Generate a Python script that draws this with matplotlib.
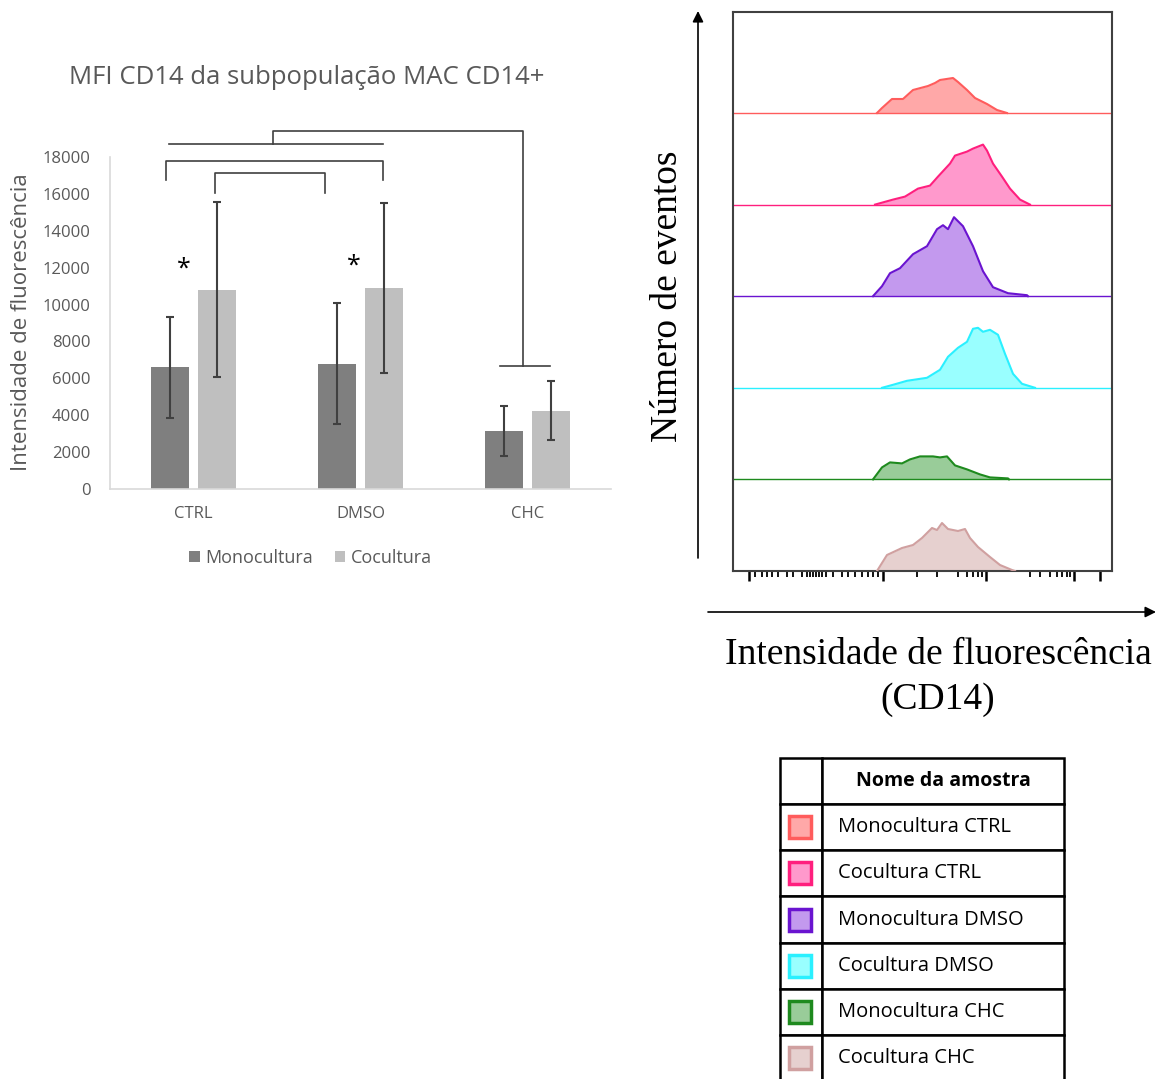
import numpy as np
import matplotlib
matplotlib.use('Agg')
import matplotlib.pyplot as plt
from matplotlib.patches import Rectangle

plt.rcParams['font.family'] = ['Open Sans', 'DejaVu Sans']

# ---- dados do gráfico de barras (MFI CD14) ----
categories = ['CTRL', 'DMSO', 'CHC']
mono_mean = [6600, 6800, 3150]
mono_sd = [2750, 3300, 1350]
coc_mean = [10800, 10900, 4250]
coc_sd = [4750, 4600, 1600]

# comparações (x em unidades de categoria, y em MFI)
brackets = [
    ([-0.165, -0.165, 1.135, 1.135], [16750, 17800, 17800, 16750]),
    ([0.13, 0.13, 0.79, 0.79], [16050, 17130, 17130, 16050]),
    ([-0.147, 1.135], [18700, 18700]),
    ([0.476, 0.476, 1.973, 1.973], [18700, 19410, 19410, 6670]),
    ([1.835, 2.135], [6670, 6670]),
]
stars = [(-0.057, 11900), (0.961, 12100)]

# ---- histogramas de citometria ----
samples = ['Monocultura CTRL', 'Cocultura CTRL', 'Monocultura DMSO',
           'Cocultura DMSO', 'Monocultura CHC', 'Cocultura CHC']
line_colors = ['#ff5c5c', '#ff1f7e', '#6a14d0', '#2af0ff', '#1e8a1e', '#d0a0a0']
fill_colors = ['#ffa8a8', '#ff99cc', '#c399ee', '#99ffff', '#99cc99', '#e6d0cf']

hist_x = [
    [144, 149, 159, 170, 180, 195, 202, 207, 220, 225, 234, 242, 254, 264, 274],
    [142, 160, 172, 185, 197, 205, 217, 222, 234, 240, 245, 250, 254, 260, 269, 277, 287, 297],
    [140, 149, 157, 167, 180, 194, 204, 210, 215, 221, 230, 240, 250, 260, 275, 294, 295],
    [149, 160, 174, 194, 207, 215, 225, 234, 240, 245, 250, 257, 265, 272, 280, 289, 302],
    [140, 149, 157, 169, 177, 187, 200, 207, 214, 222, 234, 247, 257, 275, 276],
    [144, 154, 169, 180, 189, 199, 204, 209, 215, 225, 232, 237, 245, 257, 267, 279, 282],
]
hist_counts = [
    [0, 5, 14, 14, 23, 27, 30, 33, 35, 31, 23, 15, 9, 3, 0],
    [0, 5, 8, 16, 19, 28, 41, 49, 53, 56, 58, 60, 54, 41, 28, 16, 5, 0],
    [0, 10, 23, 28, 42, 50, 67, 71, 67, 79, 70, 50, 25, 9, 3, 1, 0],
    [0, 3, 7, 10, 18, 31, 40, 46, 59, 60, 56, 58, 53, 34, 14, 4, 0],
    [0, 12, 17, 16, 20, 23, 23, 22, 23, 14, 10, 5, 2, 1, 0],
    [0, 16, 23, 26, 33, 43, 41, 48, 42, 40, 42, 33, 24, 14, 6, 1, 0],
]
major_ticks = [16, 150, 253, 341, 367]
minor_ticks = [22, 29, 34, 39, 45, 54, 60, 69, 74, 77, 80, 83, 86, 89, 93,
               100, 109, 115, 122, 129, 135, 140, 145, 184, 204, 225, 234, 240,
               245, 249, 297, 307, 317, 324, 329, 334, 337]

W, H = 1167, 1079
fig = plt.figure(figsize=(W / 100, H / 100), dpi=100)


def px_axes(x0, y0, x1, y1):
    return fig.add_axes([x0 / W, 1 - y1 / H, (x1 - x0) / W, (y1 - y0) / H])


gray_txt = '#595959'

# ---------- gráfico de barras ----------
ax = px_axes(110, 157, 611, 489)
x = np.arange(len(categories))
ek = dict(ecolor='#404040', elinewidth=1.5, capsize=3, capthick=1.5)
ax.bar(x - 0.14, mono_mean, 0.225, color='#7f7f7f', yerr=mono_sd, error_kw=ek, label='Monocultura')
ax.bar(x + 0.14, coc_mean, 0.225, color='#bfbfbf', yerr=coc_sd, error_kw=ek, label='Cocultura')
ax.set_xlim(-0.5, 2.5)
ax.set_ylim(0, 18000)
ax.set_yticks(range(0, 18001, 2000))
ax.set_xticks(x)
ax.set_xticklabels(categories)
for s in ['top', 'right']:
    ax.spines[s].set_visible(False)
for s in ['left', 'bottom']:
    ax.spines[s].set_color('#d9d9d9')
    ax.spines[s].set_linewidth(1.2)
ax.tick_params(axis='y', length=0, labelcolor=gray_txt, labelsize=12, pad=14)
ax.tick_params(axis='x', length=0, labelcolor=gray_txt, labelsize=12, pad=12)
for bx, by in brackets:
    ax.plot(bx, by, color='#404040', lw=1.2, clip_on=False)
for sx, sy in stars:
    ax.text(sx, sy, '*', ha='center', va='center', fontsize=18, color='black')
ax.legend(loc='center', bbox_to_anchor=(0.4, -0.208), ncol=2, frameon=False,
          fontsize=13, labelcolor=gray_txt, handlelength=0.6, handleheight=0.6,
          handletextpad=0.3, columnspacing=1.2)

fig.text(307 / W, 1 - 77 / H, 'MFI CD14 da subpopulação MAC CD14+', ha='center', va='center',
         fontsize=18.5, color=gray_txt)
fig.text(22 / W, 1 - 322 / H, 'Intensidade de fluorescência', ha='center', va='center',
         rotation=90, fontsize=16, color=gray_txt)

# ---------- histogramas ----------
hx = px_axes(733, 12, 1112, 571)
row_step = 91.6
n = len(samples)
for i in range(n):
    base = (n - 1 - i) * row_step
    xs = np.array(hist_x[i])
    ys = np.array(hist_counts[i]) + base
    hx.fill_between(xs, base, ys, color=fill_colors[i], lw=0, zorder=2)
    hx.plot(xs, ys, color=line_colors[i], lw=1.5, zorder=3)
    hx.axhline(base, color=line_colors[i], lw=1.0, zorder=2)
hx.set_xlim(0, 379)
hx.set_ylim(0, 559)
hx.set_yticks([])
hx.set_xticks(major_ticks)
hx.set_xticks(minor_ticks, minor=True)
hx.set_xticklabels([])
hx.tick_params(axis='x', which='major', length=7, width=1.8, color='black')
hx.tick_params(axis='x', which='minor', length=4, width=1.3, color='black')
for s in hx.spines.values():
    s.set_color('#404040')
    s.set_linewidth(1.5)

# setas e títulos dos eixos
ov = fig.add_axes([0, 0, 1, 1])
ov.set_xlim(0, W)
ov.set_ylim(H, 0)
ov.axis('off')
ov.patch.set_visible(False)
ap = dict(arrowstyle='-|>', color='black', lw=1.2, mutation_scale=16, shrinkA=0, shrinkB=0)
ov.annotate('', xy=(698, 11), xytext=(698, 558), arrowprops=ap)
ov.annotate('', xy=(1156, 612), xytext=(708, 612), arrowprops=ap)
serif = ['Liberation Serif', 'DejaVu Serif']
ov.text(668, 296, 'Número de eventos', rotation=90, ha='center', va='center',
        fontsize=27, family=serif)
ov.text(938, 655, 'Intensidade de fluorescência', ha='center', va='center',
        fontsize=27, family=serif)
ov.text(938, 700, '(CD14)', ha='center', va='center', fontsize=27, family=serif)

# ---------- tabela de legenda ----------
tb = px_axes(780, 758, 1064, 1081)
tb.set_xlim(0, 284)
tb.set_ylim(323, 0)
tb.axis('off')
cell_text = [['', 'Nome da amostra']] + [['', s] for s in samples]
table = tb.table(cellText=cell_text, colWidths=[42 / 284, 242 / 284],
                 cellLoc='left', bbox=[0, 0, 1, 1])
table.auto_set_font_size(False)
for (r, c), cell in table.get_celld().items():
    cell.set_linewidth(1.8)
    cell.set_edgecolor('black')
    cell.PAD = 0.066
    cell.get_text().set_fontsize(14.5)
    if r == 0:
        cell.get_text().set_fontweight('bold')
        cell.get_text().set_fontsize(14)
        cell.get_text().set_ha('center')
rh = 323 / 7
for i in range(n):
    cy = rh * (i + 1.5)
    tb.add_patch(Rectangle((20 - 11, cy - 11), 22, 22, facecolor=fill_colors[i],
                           edgecolor=line_colors[i], lw=2.5, zorder=5))

fig.savefig('out.png', dpi=100)
